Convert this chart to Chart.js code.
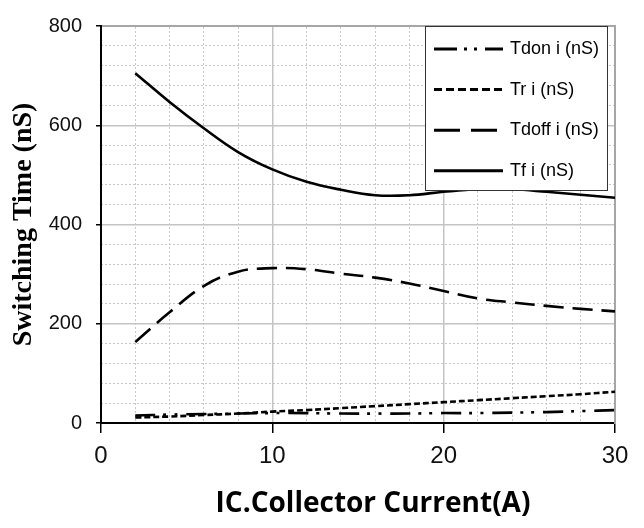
<!DOCTYPE html>
<html>
<head>
<meta charset="utf-8">
<script src="https://cdn.jsdelivr.net/npm/chart.js@4/dist/chart.umd.min.js"></script>
<style>
  body { margin: 0; background: #fff; }
</style>
</head>
<body>
<canvas id="switchChart" width="644" height="528"></canvas>
<script>
// collector current (A) and the four switching times (nS)
var current = [2, 4, 6, 8, 10, 12, 14, 16, 18, 20, 22, 24, 26, 28, 30];
var tdon  = [15, 17, 18, 19, 20, 20, 19, 19, 19, 20, 20, 21, 22, 24, 26];
var tr    = [11, 13, 16, 19, 23, 26, 30, 34, 38, 42, 46, 50, 54, 58, 63];
var tdoff = [163, 223, 276, 305, 312, 310, 301, 293, 281, 266, 251, 243, 236, 230, 225];
var tf    = [705, 647, 594, 546, 511, 486, 470, 459, 459, 466, 471, 471, 466, 460, 454];
var seriesNames = ['Tdon i (nS)', 'Tr i (nS)', 'Tdoff i (nS)', 'Tf i (nS)'];
var xTicks = [0, 10, 20, 30];
var yTicks = [0, 200, 400, 600, 800];
var xTitle = 'IC.Collector Current(A)';

function toPoints(values) {
  return values.map(function(v, i) {
    return { x: current[i], y: v };
  });
}

function lineSet(label, values, dash) {
  return {
    label: label,
    data: toPoints(values),
    borderColor: '#000',
    borderWidth: 2.6,
    borderDash: dash,
    borderCapStyle: 'butt',
    pointRadius: 0,
    tension: 0.4,
    fill: false
  };
}

// legend box sitting in the top right corner of the plot
var legendDash = [[23, 7, 3, 7, 3, 8], [8, 4], [26, 11], []];
var boxLegend = {
  id: 'boxLegend',
  afterDatasetsDraw: function(chart) {
    var ctx = chart.ctx;
    var area = chart.chartArea;
    var left = area.right - 190, top = area.top;
    ctx.save();
    ctx.fillStyle = '#fff';
    ctx.fillRect(left, top, 182, 164);
    ctx.strokeStyle = '#333';
    ctx.lineWidth = 1;
    ctx.strokeRect(left + 0.5, top + 0.5, 182, 164);
    chart.data.datasets.forEach(function(ds, i) {
      var y = top + 23 + i * 40.6;
      ctx.beginPath();
      ctx.setLineDash(legendDash[i]);
      ctx.lineWidth = 3;
      ctx.strokeStyle = '#000';
      ctx.moveTo(left + 9, y);
      ctx.lineTo(left + 78, y);
      ctx.stroke();
      ctx.setLineDash([]);
      ctx.fillStyle = '#000';
      ctx.font = '18px "Liberation Sans", Arial, sans-serif';
      ctx.textBaseline = 'middle';
      ctx.fillText(ds.label, left + 85, y);
    });
    ctx.restore();
  }
};

// x axis caption, set a little right of the plot centre
var bottomTitle = {
  id: 'bottomTitle',
  afterDraw: function(chart) {
    var ctx = chart.ctx;
    var area = chart.chartArea;
    ctx.save();
    ctx.fillStyle = '#000';
    ctx.font = 'bold 28px "Open Sans", Lato, sans-serif';
    ctx.textAlign = 'center';
    ctx.textBaseline = 'alphabetic';
    ctx.fillText(xTitle, (area.left + area.right) / 2 + 15, area.bottom + 89);
    ctx.restore();
  }
};

function edgeless(lo, hi, color) {
  return function(c) {
    var v = c.tick ? c.tick.value : null;
    return (v === lo || v === hi) ? 'rgba(0,0,0,0)' : color;
  };
}

var sansFamily = '"Liberation Sans", Arial, sans-serif';

new Chart(document.getElementById('switchChart'), {
  type: 'line',
  data: {
    datasets: [
      lineSet(seriesNames[0], tdon, [20, 8, 3, 8, 3, 9]),
      lineSet(seriesNames[1], tr, [6, 3]),
      lineSet(seriesNames[2], tdoff, [20, 9]),
      lineSet(seriesNames[3], tf, [])
    ]
  },
  options: {
    responsive: false,
    animation: false,
    devicePixelRatio: 1,
    layout: { padding: { top: 17, right: 29, left: 0, bottom: 0 } },
    plugins: {
      legend: { display: false },
      tooltip: { enabled: false }
    },
    scales: {
      x: {
        type: 'linear',
        min: 0,
        max: 30,
        afterBuildTicks: function(s) { s.ticks = xTicks.map(function(v) { return { value: v }; }); },
        ticks: { color: '#111', font: { family: sansFamily, size: 24 }, padding: 9, maxRotation: 0 },
        grid: { color: edgeless(0, 30, '#c4c4c4'), lineWidth: 1.5, tickColor: '#000', tickLength: 10, tickWidth: 1.5 },
        border: { color: '#000', width: 2 },
        afterFit: function(s) { s.height = 105; }
      },
      xMinor: {
        type: 'linear',
        position: 'top',
        min: 0,
        max: 30,
        ticks: { display: false, stepSize: 2 },
        grid: { color: function(c) { return c.tick && c.tick.value % 10 === 0 ? 'rgba(0,0,0,0)' : '#c8c8c8'; }, lineWidth: 1, drawTicks: false },
        border: { color: '#a6a6a6', width: 2, dash: [2, 2] },
        afterFit: function(s) { s.height = 0; }
      },
      y: {
        type: 'linear',
        min: 0,
        max: 800,
        afterBuildTicks: function(s) { s.ticks = yTicks.map(function(v) { return { value: v }; }); },
        ticks: { color: '#111', font: { family: sansFamily, size: 20 }, padding: 14 },
        grid: { color: edgeless(0, 800, '#c4c4c4'), lineWidth: 1.5, tickColor: '#000', tickLength: 5, tickWidth: 1.5 },
        border: { color: '#000', width: 2 },
        title: {
          display: true,
          text: 'Switching Time (nS)',
          color: '#000',
          font: { family: '"Liberation Serif", "Times New Roman", serif', size: 28, weight: 'bold', lineHeight: 1 },
          padding: { top: 10, bottom: 0 }
        },
        afterFit: function(s) { s.width = 101; }
      },
      yMinor: {
        type: 'linear',
        position: 'right',
        min: 0,
        max: 800,
        ticks: { display: false, stepSize: 40 },
        grid: { color: function(c) { return c.tick && c.tick.value % 200 === 0 ? 'rgba(0,0,0,0)' : '#c8c8c8'; }, lineWidth: 1, drawTicks: false },
        border: { color: '#a6a6a6', width: 2, dash: [2, 2] },
        afterFit: function(s) { s.width = 0; }
      }
    }
  },
  plugins: [boxLegend, bottomTitle]
});
</script>
</body>
</html>
